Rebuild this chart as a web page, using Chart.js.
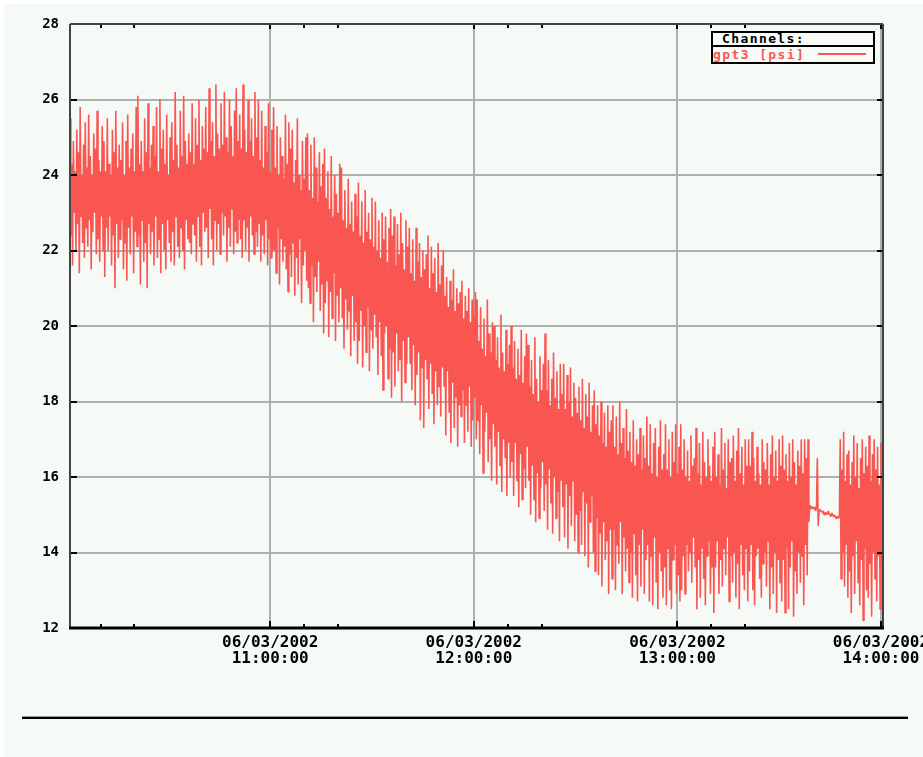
<!DOCTYPE html>
<html>
<head>
<meta charset="utf-8">
<script src="https://cdn.jsdelivr.net/npm/chart.js@4.4.1/dist/chart.umd.min.js"></script>
<style>
  html, body { margin: 0; padding: 0; background: #ffffff; }
  #page { position: relative; width: 923px; height: 757px; overflow: hidden; }
  #bg { position: absolute; left: 4px; top: 4px; right: 0; bottom: 0; background: #f6faf6; }
  #chart { position: absolute; left: 0; top: 0; }
  #legend {
    position: absolute; left: 711px; top: 31px; width: 160px;
    border: 2px solid #000; background: #f8fbf8;
    font: bold 13px 'DejaVu Sans Mono', monospace; letter-spacing: 1.4px;
  }
  #legend .head { height: 12px; line-height: 12px; padding-left: 9px; color: #000; border-bottom: 2px solid #000; }
  #legend .item { position: relative; height: 15px; line-height: 15px; color: #f95651; }
  #legend .item i { position: absolute; left: 105px; top: 6px; width: 48px; height: 2px; background: #f95651; }
  #rule { position: absolute; left: 22px; top: 716px; width: 886px; height: 2px; background: #000; border-top: 1px solid #999; }
</style>
</head>
<body>
<div id="page">
  <div id="bg"></div>
  <canvas id="chart" width="923" height="757"></canvas>
  <div id="legend">
    <div class="head">Channels:</div>
    <div class="item">gpt3 [psi]<i></i></div>
  </div>
  <div id="rule"></div>
</div>
<script>
// gpt3 [psi], one sample every quarter minute starting 10:01 (minutes after 10:00)
const startMinute = 1;
const stepMinutes = 0.25;

// 10:01 - 11:00, one row = 5 minutes
const gpt3Hour1 = [
  25.5, 22.4, 24.3, 21.6, 24.9, 23.0, 24.1, 22.0, 25.2, 22.7, 24.6, 21.4, 25.8, 22.9, 24.0, 22.2, 24.8, 21.8, 25.4, 22.6,
  24.2, 22.1, 25.6, 22.8, 24.5, 21.5, 24.0, 22.5, 25.1, 23.0, 24.7, 21.9, 25.7, 22.3, 24.4, 21.7, 24.1, 22.9, 25.3, 22.0,
  24.9, 21.3, 24.1, 22.6, 25.5, 22.0, 24.3, 22.9, 24.0, 21.6, 25.2, 22.4, 24.6, 21.0, 25.7, 22.7, 24.2, 21.8, 24.8, 22.3,
  24.4, 22.8, 25.4, 21.5, 24.0, 22.2, 24.9, 21.2, 25.6, 22.6, 24.2, 21.9, 24.7, 22.9, 25.1, 21.4, 24.1, 22.5, 25.8, 22.1,
  26.1, 22.4, 24.3, 21.1, 24.9, 22.8, 24.1, 21.7, 25.5, 22.2, 24.6, 21.0, 25.9, 22.7, 24.2, 21.9, 24.8, 22.5, 25.3, 21.6,
  24.5, 22.9, 25.8, 21.8, 24.1, 22.3, 26.0, 21.4, 24.7, 22.7, 25.2, 22.0, 24.3, 21.5, 25.6, 22.8, 24.0, 22.2, 25.0, 21.7,
  25.4, 22.5, 24.4, 21.6, 26.2, 22.9, 24.8, 22.1, 24.2, 21.8, 25.7, 22.6, 24.5, 22.0, 26.1, 21.5, 24.9, 22.8, 24.3, 22.3,
  25.1, 22.2, 24.6, 21.9, 25.9, 22.7, 24.3, 22.4, 25.5, 21.7, 24.8, 22.9, 26.0, 22.1, 24.4, 21.6, 25.3, 23.0, 24.7, 22.5,
  25.8, 22.6, 24.6, 21.8, 26.3, 23.1, 24.9, 22.3, 25.4, 21.6, 24.5, 22.8, 26.4, 22.0, 25.1, 22.7, 24.7, 21.9, 25.9, 23.0,
  24.8, 22.4, 26.2, 22.9, 25.0, 21.7, 24.6, 22.6, 26.0, 22.1, 25.3, 23.1, 24.5, 21.9, 25.7, 22.5, 26.3, 22.2, 24.9, 22.8,
  25.6, 22.3, 24.7, 21.8, 26.4, 22.8, 25.2, 22.0, 24.6, 22.6, 26.0, 21.7, 24.9, 22.9, 25.5, 22.4, 24.5, 21.9, 26.2, 22.5,
  25.0, 22.1, 26.0, 22.7, 24.4, 21.7, 25.7, 22.4, 24.2, 21.9, 25.3, 22.8, 24.6, 21.6, 25.9, 22.3, 24.1, 21.8, 25.2, 22.0
];
// 11:01 - 12:00
const gpt3Hour2 = [
  25.8, 22.0, 24.2, 21.4, 25.3, 22.6, 24.0, 21.1, 25.0, 22.3, 24.5, 21.7, 23.9, 22.1, 25.6, 21.5, 24.3, 20.9, 25.4, 21.9,
  24.7, 21.3, 25.2, 22.2, 23.8, 20.8, 24.4, 21.8, 25.5, 21.1, 24.0, 22.3, 23.6, 20.6, 24.9, 21.6, 23.9, 22.0, 25.0, 21.2,
  25.1, 21.0, 23.6, 20.6, 24.8, 21.6, 23.4, 20.1, 25.0, 21.3, 24.2, 20.9, 23.3, 21.7, 24.6, 20.4, 23.7, 21.1, 24.3, 19.8,
  24.7, 20.6, 23.4, 21.2, 24.1, 19.7, 23.1, 20.9, 24.5, 20.2, 22.9, 21.4, 24.0, 19.6, 23.5, 20.8, 23.0, 20.1, 24.3, 21.0,
  24.2, 20.2, 22.8, 19.4, 23.6, 20.7, 22.6, 19.9, 23.9, 20.4, 22.7, 19.2, 23.3, 20.8, 22.5, 19.6, 23.5, 20.1, 22.9, 19.0,
  23.8, 19.6, 22.4, 20.4, 23.3, 18.9, 22.2, 20.0, 23.6, 19.3, 22.5, 20.5, 23.0, 18.8, 22.3, 19.9, 23.4, 19.4, 22.1, 20.3,
  23.3, 19.7, 22.0, 18.7, 22.8, 20.1, 21.8, 19.2, 23.0, 18.3, 22.3, 19.8, 22.9, 20.0, 21.7, 18.6, 22.6, 19.4, 23.1, 18.1,
  22.4, 19.3, 22.9, 18.4, 21.6, 19.8, 22.7, 18.8, 21.9, 19.1, 23.0, 18.0, 22.2, 19.6, 21.5, 18.5, 22.8, 19.0, 22.1, 19.7,
  22.6, 19.0, 21.4, 18.3, 22.3, 19.5, 21.2, 17.9, 22.6, 18.7, 21.7, 19.3, 22.2, 17.5, 21.3, 18.9, 22.0, 17.3, 21.5, 19.1,
  21.9, 18.6, 22.4, 17.8, 21.0, 19.0, 22.1, 18.2, 21.4, 17.4, 21.8, 18.8, 20.9, 17.9, 22.2, 18.4, 21.1, 17.6, 21.6, 18.9,
  22.0, 18.4, 20.8, 17.1, 21.3, 18.8, 20.5, 17.7, 21.2, 16.9, 20.7, 18.5, 21.5, 17.3, 20.4, 18.1, 21.0, 16.8, 20.6, 17.9,
  20.9, 17.6, 21.2, 18.3, 20.2, 16.9, 20.8, 17.9, 20.4, 17.2, 21.0, 18.4, 20.1, 16.8, 20.7, 17.5, 20.3, 18.1, 20.9, 17.0
];
// 12:01 - 13:00
const gpt3Hour3 = [
  20.7, 17.5, 19.6, 16.6, 20.5, 17.9, 19.4, 16.1, 20.2, 17.2, 19.2, 17.7, 20.7, 16.4, 19.8, 17.0, 19.3, 15.9, 20.1, 17.4,
  20.0, 16.8, 19.1, 15.8, 19.7, 17.2, 18.9, 16.3, 20.3, 15.6, 19.3, 17.0, 18.8, 16.5, 19.9, 15.5, 19.0, 16.9, 19.5, 16.0,
  20.0, 16.4, 18.9, 15.5, 19.6, 16.9, 18.6, 15.9, 19.4, 15.2, 18.7, 16.6, 19.9, 15.4, 18.5, 16.2, 19.2, 15.7, 19.8, 16.8,
  19.5, 15.9, 18.4, 15.0, 19.1, 16.3, 18.2, 15.4, 19.7, 14.8, 18.6, 16.1, 18.0, 14.9, 19.2, 15.7, 18.3, 16.4, 19.0, 15.1,
  19.8, 15.8, 18.3, 14.6, 19.1, 16.2, 17.9, 15.3, 18.6, 14.5, 19.3, 16.0, 18.1, 14.9, 18.8, 15.6, 17.8, 14.3, 19.0, 15.9,
  18.2, 15.2, 19.0, 14.4, 17.8, 15.8, 18.7, 14.1, 18.0, 15.5, 18.9, 14.7, 17.6, 15.9, 18.5, 14.3, 18.1, 15.0, 17.7, 14.0,
  18.4, 15.1, 17.5, 14.2, 18.6, 15.6, 17.3, 13.9, 18.2, 15.3, 17.6, 13.6, 18.5, 14.8, 17.2, 15.5, 17.9, 14.0, 18.3, 13.5,
  17.4, 14.9, 17.9, 13.4, 17.1, 14.5, 18.0, 13.1, 16.9, 14.8, 17.7, 13.8, 16.8, 14.3, 17.9, 12.9, 17.2, 14.6, 17.5, 13.3,
  17.9, 14.6, 16.8, 13.0, 17.6, 14.2, 16.6, 13.7, 18.0, 14.8, 16.9, 12.9, 17.3, 14.4, 16.5, 13.5, 17.8, 14.1, 16.7, 13.2,
  17.2, 14.0, 16.4, 12.8, 17.5, 14.5, 16.3, 13.4, 17.0, 12.7, 16.6, 14.2, 17.3, 13.1, 16.2, 14.6, 17.1, 12.9, 16.5, 13.8,
  17.6, 14.2, 16.3, 12.7, 17.4, 13.9, 16.1, 12.6, 16.9, 14.4, 17.3, 13.2, 16.0, 12.5, 16.8, 14.0, 17.5, 13.5, 16.2, 12.8,
  16.6, 13.6, 17.4, 12.6, 16.2, 14.1, 17.0, 13.0, 16.0, 12.5, 17.2, 13.8, 16.4, 14.2, 17.4, 12.9, 16.1, 13.4, 16.8, 12.7
];
// 13:01 - 14:00 (quiet stretch 13:39 - 13:48)
const gpt3Hour4 = [
  17.4, 13.0, 16.2, 13.9, 17.0, 12.9, 16.0, 14.2, 16.7, 13.5, 15.9, 14.0, 17.1, 13.2, 16.3, 14.4, 16.5, 13.6, 17.3, 12.5,
  16.1, 13.8, 16.9, 12.8, 15.8, 14.1, 17.2, 13.3, 16.4, 12.6, 16.0, 13.9, 17.0, 14.3, 16.3, 12.9, 15.9, 13.6, 16.8, 12.4,
  17.2, 13.6, 16.0, 14.3, 16.6, 12.9, 15.8, 13.8, 17.3, 13.1, 16.2, 14.1, 16.9, 13.4, 15.7, 14.4, 17.0, 12.7, 16.4, 13.9,
  16.5, 13.2, 17.1, 14.0, 15.9, 12.8, 16.7, 13.7, 17.3, 12.5, 16.1, 14.2, 16.8, 13.4, 15.8, 13.0, 17.0, 14.1, 16.3, 12.7,
  17.0, 13.5, 16.3, 14.2, 17.2, 13.0, 16.5, 12.6, 15.9, 13.9, 16.8, 14.1, 16.1, 13.3, 15.8, 12.8, 17.0, 13.7, 16.4, 14.0,
  16.2, 13.1, 16.9, 14.3, 15.8, 12.5, 16.6, 13.6, 17.1, 12.9, 16.0, 14.0, 16.7, 12.4, 15.9, 13.8, 17.0, 13.2, 16.3, 12.7,
  17.1, 13.8, 16.2, 12.4, 16.6, 14.1, 15.9, 12.5, 16.9, 13.6, 16.0, 14.3, 17.0, 12.3, 16.4, 13.5, 15.8, 12.9, 16.7, 14.0,
  16.3, 13.2, 17.0, 13.9, 16.1, 12.6, 17.0, 14.2, 16.5, 13.4, 17.0, 14.8, 15.2, 15.25, 15.15, 15.2, 15.2, 15.15, 15.2, 15.1,
  15.2, 16.5, 14.7, 15.1, 15.15, 15.1, 15.1, 15.05, 15.1, 15.0, 15.05, 15.05, 15.0, 15.05, 15.1, 15.0, 15.0, 14.95, 15.05, 15.0,
  14.95, 15.0, 14.95, 14.9, 14.95, 14.95, 14.9, 14.95, 17.0, 13.3, 16.2, 14.0, 17.2, 13.1, 15.9, 14.2, 16.6, 12.8, 16.7, 13.5,
  15.8, 12.4, 16.4, 13.9, 17.1, 12.9, 16.0, 14.3, 16.9, 13.2, 15.7, 12.6, 16.5, 13.8, 17.0, 12.2, 16.1, 14.1, 16.8, 13.0,
  16.3, 12.8, 17.1, 13.7, 15.9, 12.3, 16.6, 14.0, 17.0, 13.3, 16.2, 12.7, 16.8, 13.9, 15.8, 12.5, 16.9, 13.6, 17.0, 16.2
];

const gpt3Values = [...gpt3Hour1, ...gpt3Hour2, ...gpt3Hour3, ...gpt3Hour4];

// x axis
const tickMinutes = [60, 120, 180, 240];
const tickDates = ['06/03/2002', '06/03/2002', '06/03/2002', '06/03/2002'];
const tickTimes = ['11:00:00', '12:00:00', '13:00:00', '14:00:00'];
const minorTickMinutes = [10, 20, 70, 80, 130, 140, 190, 200];

const red = '#f95651';
const points = gpt3Values.map((v, i) => ({ x: startMinute + i * stepMinutes, y: v }));

const labelFont = { family: "'DejaVu Sans Mono', monospace", weight: 'bold' };

// rahmen + små tickmarkeringar som i originalet
const framePlugin = {
  id: 'frame',
  afterDraw(chart) {
    const { ctx, chartArea: a, scales } = chart;
    const x = scales.x, y = scales.y;
    const seg = (x1, y1, x2, y2) => { ctx.beginPath(); ctx.moveTo(x1, y1); ctx.lineTo(x2, y2); ctx.stroke(); };
    ctx.save();
    ctx.strokeStyle = '#000';
    ctx.lineWidth = 2;
    y.ticks.forEach((t) => {
      const py = Math.round(y.getPixelForValue(t.value));
      seg(a.left, py, a.left + 7, py);
      seg(a.right - 6, py, a.right, py);
    });
    tickMinutes.forEach((m) => {
      const px = Math.round(x.getPixelForValue(m));
      seg(px, a.bottom, px, a.bottom - 7);
      seg(px, a.top, px, a.top + 5);
    });
    minorTickMinutes.forEach((m) => {
      const px = Math.round(x.getPixelForValue(m));
      seg(px, a.bottom, px, a.bottom - 4);
      seg(px, a.top, px, a.top + 4);
    });
    ctx.strokeStyle = '#444';
    seg(a.left, a.top, a.right, a.top);
    seg(a.left, a.top, a.left, a.bottom);
    seg(a.right, a.top, a.right, a.bottom);
    ctx.strokeStyle = '#000';
    ctx.lineWidth = 3;
    seg(a.left - 1, a.bottom, a.right + 1, a.bottom);
    ctx.restore();
  }
};

new Chart(document.getElementById('chart'), {
  type: 'line',
  data: {
    datasets: [
      {
        label: 'gpt3 [psi]',
        data: points,
        borderColor: red,
        borderWidth: 1.6,
        borderJoinStyle: 'bevel',
        pointRadius: 0,
        tension: 0,
        fill: false
      }
    ]
  },
  options: {
    responsive: false,
    animation: false,
    events: [],
    layout: { padding: { left: 0, top: 24, right: 40, bottom: 83 } },
    plugins: { legend: { display: false }, tooltip: { enabled: false } },
    scales: {
      x: {
        type: 'linear',
        min: 1,
        max: 240.6,
        afterBuildTicks: (s) => { s.ticks = tickMinutes.map((v) => ({ value: v })); },
        afterFit: (s) => { s.paddingLeft = 0; s.paddingRight = 0; },
        grid: { color: '#b0b0b0', lineWidth: 2, drawTicks: false },
        border: { display: false },
        ticks: {
          autoSkip: false,
          maxRotation: 0,
          padding: 7,
          color: '#000',
          font: { ...labelFont, size: 16, lineHeight: 1 },
          callback: (v, i) => [tickDates[i], tickTimes[i]]
        }
      },
      y: {
        min: 12,
        max: 28,
        afterFit: (s) => { s.width = 70; },
        grid: { color: '#b0b0b0', lineWidth: 2, drawTicks: false },
        border: { display: false },
        ticks: { stepSize: 2, padding: 11, color: '#000', font: { ...labelFont, size: 14 } }
      }
    }
  },
  plugins: [framePlugin]
});
</script>
</body>
</html>
